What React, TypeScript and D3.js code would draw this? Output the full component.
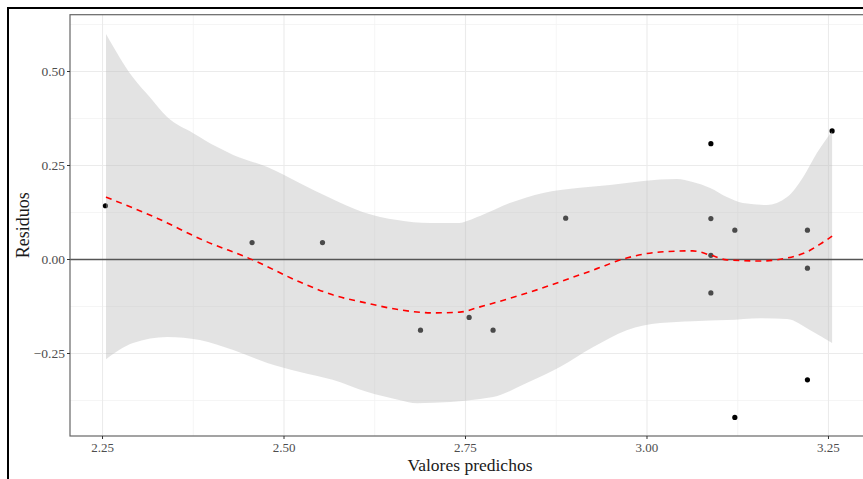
import React from "react";
import * as d3 from "d3";

const width = 863;
const height = 479;
const panel = { left: 70, right: 870, top: 14.7, bottom: 436 };

// residuals vs fitted values
const fitted = [2.254, 2.456, 2.553, 2.688, 2.755, 2.788, 2.888, 3.088, 3.088, 3.088, 3.088, 3.121, 3.121, 3.221, 3.221, 3.221, 3.255];
const residuals = [0.143, 0.045, 0.045, -0.188, -0.154, -0.188, 0.11, 0.308, 0.109, 0.011, -0.089, 0.078, -0.42, 0.078, -0.023, -0.32, 0.342];

// loess smooth and confidence band
const smoothX = [2.2548, 2.325, 2.388, 2.457, 2.522, 2.567, 2.614, 2.66, 2.705, 2.742, 2.77, 2.835, 2.926, 2.972, 3.018, 3.063, 3.087, 3.11, 3.156, 3.193, 3.22, 3.241, 3.255];
const smoothY = [0.166, 0.11, 0.052, -0.001, -0.06, -0.094, -0.116, -0.134, -0.142, -0.14, -0.126, -0.089, -0.028, 0.004, 0.02, 0.023, 0.012, -0.001, -0.004, 0.004, 0.02, 0.044, 0.062];

const upperX = [2.2548, 2.292, 2.315, 2.339, 2.375, 2.408, 2.43, 2.477, 2.522, 2.563, 2.609, 2.656, 2.701, 2.738, 2.77, 2.811, 2.857, 2.904, 2.949, 2.995, 3.041, 3.063, 3.087, 3.11, 3.132, 3.165, 3.193, 3.215, 3.234, 3.255];
const upperY = [0.6, 0.484, 0.432, 0.379, 0.336, 0.299, 0.278, 0.246, 0.203, 0.164, 0.126, 0.105, 0.097, 0.097, 0.116, 0.15, 0.177, 0.19, 0.198, 0.209, 0.214, 0.206, 0.19, 0.166, 0.15, 0.145, 0.166, 0.219, 0.283, 0.342];
const lowerX = [2.2548, 2.292, 2.339, 2.384, 2.43, 2.477, 2.522, 2.567, 2.614, 2.66, 2.683, 2.729, 2.77, 2.788, 2.835, 2.88, 2.926, 2.972, 3.018, 3.063, 3.11, 3.156, 3.193, 3.225, 3.255];
const lowerY = [-0.265, -0.222, -0.206, -0.214, -0.241, -0.275, -0.299, -0.32, -0.352, -0.374, -0.382, -0.379, -0.371, -0.366, -0.328, -0.286, -0.233, -0.188, -0.169, -0.164, -0.161, -0.156, -0.158, -0.188, -0.222];

const xTicks = [2.25, 2.5, 2.75, 3.0, 3.25];
const xMinor = [2.375, 2.625, 2.875, 3.125];
const yTicks = [-0.25, 0, 0.25, 0.5];
const yMinor = [-0.375, -0.125, 0.125, 0.375, 0.625];

const font = "'Liberation Serif', 'Times New Roman', serif";

export default function App() {
  const x = d3.scaleLinear().domain([2.2052, 3.3072]).range([panel.left, panel.right]);
  const y = d3.scaleLinear().domain([-0.4694, 0.6511]).range([panel.bottom, panel.top]);

  const upper = upperX.map((v, i) => [x(v), y(upperY[i])] as [number, number]);
  const lower = lowerX.map((v, i) => [x(v), y(lowerY[i])] as [number, number]);
  const lineGen = d3.line().curve(d3.curveMonotoneX);
  // band: upper edge left to right, then lower edge right to left
  const bandPath =
    lineGen(upper) +
    "L" +
    d3.line().curve(d3.curveMonotoneX)(lower.slice().reverse())!.slice(1) +
    "Z";
  const smoothPath = lineGen(smoothX.map((v, i) => [x(v), y(smoothY[i])] as [number, number]));

  return (
    <svg width={width} height={height} style={{ position: "absolute", left: 0, top: 0, background: "#fff" }}>
      <rect x={0} y={0} width={width} height={height} fill="#fff" />
      {/* grid */}
      {yMinor.map(v => (
        <line key={"ym" + v} x1={panel.left} x2={panel.right} y1={y(v)} y2={y(v)} stroke="#f2f2f2" strokeWidth={0.8} />
      ))}
      {xMinor.map(v => (
        <line key={"xm" + v} x1={x(v)} x2={x(v)} y1={panel.top} y2={panel.bottom} stroke="#f2f2f2" strokeWidth={0.8} />
      ))}
      {yTicks.map(v => (
        <line key={"yg" + v} x1={panel.left} x2={panel.right} y1={y(v)} y2={y(v)} stroke="#ebebeb" strokeWidth={1.1} />
      ))}
      {xTicks.map(v => (
        <line key={"xg" + v} x1={x(v)} x2={x(v)} y1={panel.top} y2={panel.bottom} stroke="#ebebeb" strokeWidth={1.1} />
      ))}

      {/* points */}
      {fitted.map((v, i) => (
        <circle key={i} cx={x(v)} cy={y(residuals[i])} r={2.6} fill="#000" />
      ))}

      {/* confidence band */}
      <path d={bandPath} fill="rgb(185,185,185)" fillOpacity={0.4} />

      {/* zero line */}
      <line x1={panel.left} x2={panel.right} y1={y(0)} y2={y(0)} stroke="#555" strokeWidth={1.3} />

      {/* smooth */}
      <path d={smoothPath!} fill="none" stroke="#ff0000" strokeWidth={1.6} strokeDasharray="6,5" />

      {/* panel border */}
      <rect x={panel.left} y={panel.top} width={panel.right - panel.left} height={panel.bottom - panel.top} fill="none" stroke="#666" strokeWidth={1.2} />

      {/* y axis */}
      {yTicks.map(v => (
        <g key={"yt" + v}>
          <line x1={panel.left - 3} x2={panel.left} y1={y(v)} y2={y(v)} stroke="#333" strokeWidth={1} />
          <text x={panel.left - 5} y={y(v)} dy="0.35em" textAnchor="end" fontFamily={font} fontSize={13.5} fill="#4d4d4d">
            {d3.format(".2f")(v)}
          </text>
        </g>
      ))}
      {/* x axis */}
      {xTicks.map(v => (
        <g key={"xt" + v}>
          <line x1={x(v)} x2={x(v)} y1={panel.bottom} y2={panel.bottom + 3} stroke="#333" strokeWidth={1} />
          <text x={x(v)} y={panel.bottom + 15.5} textAnchor="middle" fontFamily={font} fontSize={13} fill="#4d4d4d">
            {d3.format(".2f")(v)}
          </text>
        </g>
      ))}

      <text x={(panel.left + panel.right) / 2} y={471} textAnchor="middle" fontFamily={font} fontSize={17.5} fill="#1a1a1a">
        Valores predichos
      </text>
      <text transform={`translate(29,${(panel.top + panel.bottom) / 2}) rotate(-90)`} textAnchor="middle" fontFamily={font} fontSize={18} fill="#1a1a1a">
        Residuos
      </text>

      {/* outer frame */}
      <path d={`M8,${height}V8H${width}`} fill="none" stroke="#000" strokeWidth={2} />
    </svg>
  );
}
